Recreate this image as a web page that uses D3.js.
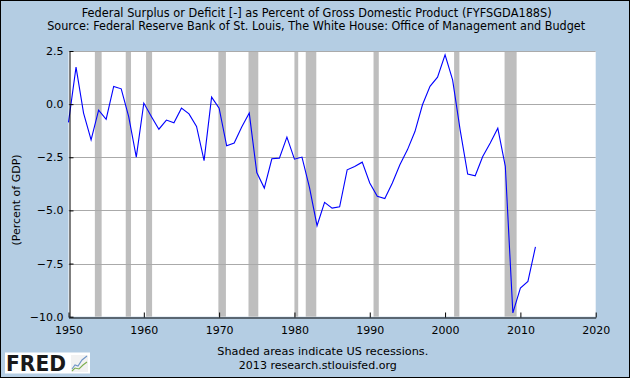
<!DOCTYPE html>
<html>
<head>
<meta charset="utf-8">
<script src="https://cdn.jsdelivr.net/npm/d3@7"></script>
<style>
  html, body { margin: 0; padding: 0; background: #B4CDE3; }
  svg { display: block; }
  text { font-family: "DejaVu Sans", sans-serif; }
</style>
</head>
<body>
<svg id="chart" width="630" height="378"></svg>
<script>
// ---- Data ----
const years = [1950,1951,1952,1953,1954,1955,1956,1957,1958,1959,
  1960,1961,1962,1963,1964,1965,1966,1967,1968,1969,
  1970,1971,1972,1973,1974,1975,1976,1977,1978,1979,
  1980,1981,1982,1983,1984,1985,1986,1987,1988,1989,
  1990,1991,1992,1993,1994,1995,1996,1997,1998,1999,
  2000,2001,2002,2003,2004,2005,2006,2007,2008,2009,
  2010,2011,2012];
const surplusPct = [-0.86,1.74,-0.42,-1.68,-0.28,-0.71,0.83,0.72,-0.60,-2.49,
  0.05,-0.58,-1.18,-0.75,-0.88,-0.19,-0.46,-1.05,-2.66,0.33,
  -0.19,-1.96,-1.83,-1.08,-0.42,-3.22,-3.95,-2.57,-2.54,-1.55,
  -2.59,-2.49,-3.93,-5.72,-4.62,-4.89,-4.83,-3.09,-2.93,-2.73,
  -3.71,-4.34,-4.44,-3.71,-2.85,-2.15,-1.29,-0.03,0.84,1.27,
  2.32,1.14,-1.21,-3.29,-3.37,-2.46,-1.83,-1.13,-2.93,-9.82,
  -8.65,-8.34,-6.72];
const recessionStart = [1953.5,1957.6,1960.3,1969.9,1973.9,1980.0,1981.5,1990.5,2001.2,2007.9];
const recessionEnd   = [1954.4,1958.3,1961.1,1970.9,1975.2,1980.5,1982.9,1991.2,2001.9,2009.5];
const yTicks = [2.5,0.0,-2.5,-5.0,-7.5,-10.0];
const xTicks = [1950,1960,1970,1980,1990,2000,2010,2020];
const titleLines = ["Federal Surplus or Deficit [-] as Percent of Gross Domestic Product (FYFSGDA188S)",
  "Source: Federal Reserve Bank of St. Louis, The White House: Office of Management and Budget"];
const yLabel = "(Percent of GDP)";
const footLines = ["Shaded areas indicate US recessions.", "2013 research.stlouisfed.org"];

// ---- Layout ----
const W = 630, H = 378;
const plot = {left: 68.5, right: 595.7, top: 51, bottom: 316.7};
const svg = d3.select("#chart");

svg.append("rect").attr("x",0.5).attr("y",0.5).attr("width",W-1).attr("height",H-1)
  .attr("fill","#B4CDE3").attr("stroke","#000").attr("stroke-width",1);

const x = d3.scaleLinear().domain([1950,2020]).range([plot.left, plot.right]);
const y = d3.scaleLinear().domain([-10,2.5]).range([plot.bottom, plot.top]);

// plot background
svg.append("rect").attr("x",plot.left).attr("y",plot.top)
  .attr("width",plot.right-plot.left).attr("height",plot.bottom-plot.top).attr("fill","#fff");

// recessions
svg.append("g").selectAll("rect").data(recessionStart).join("rect")
  .attr("x",(d)=>x(d)).attr("y",plot.top)
  .attr("width",(d,i)=>x(recessionEnd[i])-x(d))
  .attr("height",plot.bottom-plot.top).attr("fill","#BEBEBE");

// gridlines
svg.append("g").selectAll("line").data(yTicks.filter(d=>d>-10)).join("line")
  .attr("x1",plot.left).attr("x2",plot.right)
  .attr("y1",d=>Math.round(y(d))+0.5).attr("y2",d=>Math.round(y(d))+0.5)
  .attr("stroke","#AAAAAA").attr("stroke-width",1);

// line
const line = d3.line().x((d,i)=>x(years[i])).y(d=>y(d));
svg.append("path").datum(surplusPct).attr("d",line)
  .attr("fill","none").attr("stroke","#0000FF").attr("stroke-width",1.1);

// axes
const yAxis = d3.axisLeft(y).tickValues(yTicks).tickFormat(d3.format(".1f")).tickSizeInner(-4).tickSizeOuter(0).tickPadding(6);
const gy = svg.append("g").attr("transform",`translate(${Math.round(plot.left)+0.5},0)`).call(yAxis);
const xAxis = d3.axisBottom(x).tickValues(xTicks).tickFormat(d3.format("d")).tickSizeInner(-5).tickSizeOuter(0).tickPadding(9);
const gx = svg.append("g").attr("transform",`translate(0,${Math.round(plot.bottom)+0.5})`).call(xAxis);
[gx, gy].forEach(g => {
  g.select(".domain").attr("stroke","#000");
  g.selectAll(".tick line").attr("stroke","#000");
  g.selectAll(".tick text").attr("fill","#000").attr("font-size","11px").attr("font-family","DejaVu Sans");
});

// titles
const titleX = [316.7, 316.2], titleY = [16.5, 30], titleW = [470, 538];
svg.selectAll(".title").data(titleLines).join("text").attr("class","title")
  .attr("x",(d,i)=>titleX[i]).attr("y",(d,i)=>titleY[i]).attr("text-anchor","middle")
  .attr("font-size","11.5px").attr("fill","#000")
  .attr("textLength",(d,i)=>titleW[i]).attr("lengthAdjust","spacingAndGlyphs").text(d=>d);

svg.append("text").attr("transform","translate(20,200) rotate(-90)")
  .attr("text-anchor","middle").attr("font-size","11px").attr("fill","#000").text(yLabel);

const footX = [322.8, 317.8], footY = [355, 368.5], footW = [211, 158];
svg.selectAll(".foot").data(footLines).join("text").attr("class","foot")
  .attr("x",(d,i)=>footX[i]).attr("y",(d,i)=>footY[i]).attr("text-anchor","middle")
  .attr("font-size","11px").attr("fill","#000")
  .attr("textLength",(d,i)=>footW[i]).attr("lengthAdjust","spacingAndGlyphs").text(d=>d);

// FRED logo
const logo = svg.append("g");
logo.append("rect").attr("x",5).attr("y",352.5).attr("width",85).attr("height",21).attr("fill","#fff");
logo.append("text").attr("x",6).attr("y",370.5).attr("font-size","21px").attr("font-weight","bold")
  .attr("font-family","Liberation Sans, Arial, sans-serif")
  .attr("textLength",60).attr("lengthAdjust","spacingAndGlyphs").attr("fill","#1a1a1a").text("FRED");
logo.append("rect").attr("x",71).attr("y",355).attr("width",17).attr("height",17).attr("fill","#F2F2F2");
logo.append("path").attr("d","M72,369 L75,365 L78,366 L82,360 L87,356").attr("fill","none").attr("stroke","#6F95C6").attr("stroke-width",1.1);
logo.append("path").attr("d","M72,371 L75,368 L79,369 L83,365 L87,362").attr("fill","none").attr("stroke","#7DAE4E").attr("stroke-width",1.1);
</script>
</body>
</html>
